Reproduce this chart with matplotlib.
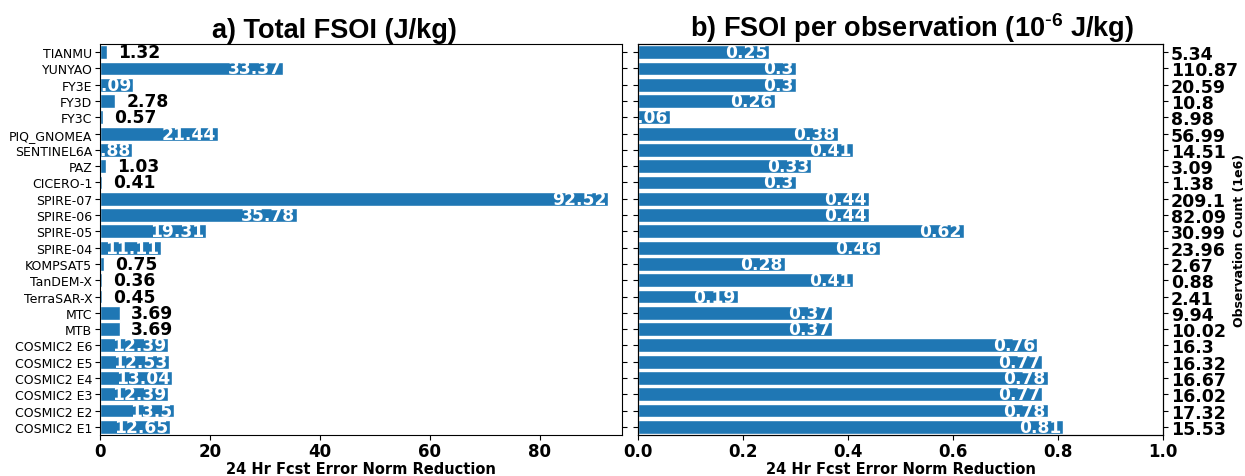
import numpy as np
import matplotlib
matplotlib.use("Agg")
import matplotlib.pyplot as plt

# top to bottom as shown
names = ["TIANMU", "YUNYAO", "FY3E", "FY3D", "FY3C", "PIQ_GNOMEA", "SENTINEL6A",
         "PAZ", "CICERO-1", "SPIRE-07", "SPIRE-06", "SPIRE-05", "SPIRE-04",
         "KOMPSAT5", "TanDEM-X", "TerraSAR-X", "MTC", "MTB", "COSMIC2 E6",
         "COSMIC2 E5", "COSMIC2 E4", "COSMIC2 E3", "COSMIC2 E2", "COSMIC2 E1"]
total_fsoi = [1.32, 33.37, 6.09, 2.78, 0.57, 21.44, 5.88, 1.03, 0.41, 92.52,
              35.78, 19.31, 11.11, 0.75, 0.36, 0.45, 3.69, 3.69, 12.39, 12.53,
              13.04, 12.39, 13.5, 12.65]
fsoi_per_ob = [0.25, 0.3, 0.3, 0.26, 0.06, 0.38, 0.41, 0.33, 0.3, 0.44,
               0.44, 0.62, 0.46, 0.28, 0.41, 0.19, 0.37, 0.37, 0.76, 0.77,
               0.78, 0.77, 0.78, 0.81]
ob_count = ["5.34", "110.87", "20.59", "10.8", "8.98", "56.99", "14.51", "3.09",
            "1.38", "209.1", "82.09", "30.99", "23.96", "2.67", "0.88", "2.41",
            "9.94", "10.02", "16.3", "16.32", "16.67", "16.02", "17.32", "15.53"]

y = np.arange(len(names))
blue = "#1f77b4"

fig = plt.figure(figsize=(12.45, 4.77), dpi=100)
ax1 = fig.add_axes([100/1245, 41/477, 522/1245, 391/477])
ax2 = fig.add_axes([638/1245, 41/477, 525/1245, 391/477])

# panel a
ax1.barh(y, total_fsoi, height=0.85, color=blue, edgecolor="white", linewidth=1)
for yi, v in zip(y, total_fsoi):
    if v > 5:
        ax1.text(v - 0.3, yi, str(v), color="white", fontsize=12.3, fontweight="bold",
                 ha="right", va="center", clip_on=True)
    else:
        ax1.text(v + 2, yi, str(v), color="black", fontsize=12.3, fontweight="bold",
                 ha="left", va="center")
ax1.set_yticks(y)
ax1.set_yticklabels(names, fontsize=9)
ax1.set_ylim(23.5, -0.5)
ax1.set_xlim(0, 95)
ax1.set_xticks([0, 20, 40, 60, 80])
ax1.tick_params(axis="x", labelsize=12, pad=1.5)
for t in ax1.get_xticklabels():
    t.set_fontweight("bold")
ax1.tick_params(axis="y", right=True, pad=2)
ax1.set_xlabel("24 Hr Fcst Error Norm Reduction", fontsize=10.5, fontweight="bold",
               labelpad=1)
ax1.set_title("a) Total FSOI (J/kg)", fontsize=19.5, fontweight="bold",
              family="Liberation Sans", pad=5, x=0.45)

# panel b
ax2.barh(y, fsoi_per_ob, height=0.85, color=blue, edgecolor="white", linewidth=1)
for yi, v in zip(y, fsoi_per_ob):
    ax2.text(v - 0.004, yi, str(v), color="white", fontsize=12.3, fontweight="bold",
             ha="right", va="center", clip_on=True)
ax2.set_yticks(y)
ax2.set_yticklabels([])
ax2.set_ylim(23.5, -0.5)
ax2.set_xlim(0, 1.0)
ax2.tick_params(axis="x", labelsize=12, pad=1.5)
for t in ax2.get_xticklabels():
    t.set_fontweight("bold")
ax2.set_xlabel("24 Hr Fcst Error Norm Reduction", fontsize=10.5, fontweight="bold",
               labelpad=1)
ax2.set_title(r"b) FSOI per observation (10$^{\mathregular{\text{-}6}}$ J/kg)",
              fontsize=19.5, fontweight="bold", family="Liberation Sans", pad=5,
              x=0.522)

ax3 = ax2.twinx()
ax3.set_ylim(23.5, -0.5)
ax3.set_yticks(y)
ax3.set_yticklabels(ob_count, fontsize=12.5, fontweight="bold")
ax3.tick_params(axis="y", pad=2)
ax3.set_ylabel("Observation Count (1e6)", fontsize=9, fontweight="bold")
ax3.yaxis.set_label_coords(1.133, 0.5)

fig.savefig("out.png", dpi=100)
